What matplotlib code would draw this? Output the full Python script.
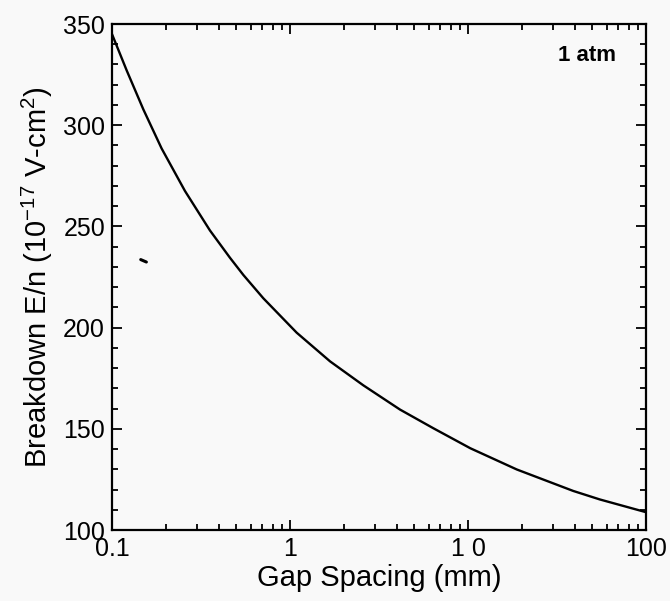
import matplotlib
matplotlib.use("Agg")
import matplotlib.pyplot as plt
from matplotlib.ticker import LogLocator, NullFormatter, MultipleLocator

plt.rcParams['font.family'] = ['Liberation Sans', 'DejaVu Sans']
plt.rcParams['mathtext.fontset'] = 'custom'
plt.rcParams['mathtext.rm'] = 'Liberation Sans'
plt.rcParams['mathtext.it'] = 'Liberation Sans'

gap_mm = [0.1, 0.121, 0.15, 0.19, 0.257, 0.355, 0.46, 0.547, 0.708, 1.09,
          1.68, 2.58, 4.15, 6.38, 10.3, 18.8, 39, 55, 100]
breakdown = [345, 327, 307.8, 288.5, 267.5, 248, 234.5, 226, 214.5, 197.5,
             183.3, 171.5, 159.5, 150.3, 140.4, 129.9, 119.3, 115.1, 108.8]

# small stray mark visible in the scanned original
speck_x = [0.145, 0.156]
speck_y = [233.6, 232.4]

x_ticks = [0.1, 1, 10, 100]
x_ticklabels = ["0.1", "1", "1 0", "100"]
y_ticks = [100, 150, 200, 250, 300, 350]
annotation = "1 atm"

bg = '#f9f9f9'
fig = plt.figure(figsize=(6.7, 6.01), dpi=100, facecolor=bg)
ax = fig.add_axes([112/670, 1-530/601, 534/670, 506/601], facecolor=bg)

ax.plot(gap_mm, breakdown, color='black', lw=1.7)
ax.plot(speck_x, speck_y, color='black', lw=2.2, solid_capstyle='round')

ax.set_xscale('log')
ax.set_xlim(0.1, 100)
ax.set_ylim(100, 350)
ax.set_xticks(x_ticks)
ax.set_xticklabels(x_ticklabels)
ax.xaxis.set_minor_locator(LogLocator(base=10, subs=range(2, 10), numticks=20))
ax.xaxis.set_minor_formatter(NullFormatter())
ax.set_yticks(y_ticks)
ax.yaxis.set_minor_locator(MultipleLocator(10))

ax.tick_params(which='both', direction='in', top=True, right=True, width=1.3, colors='black')
ax.tick_params(which='major', length=7, labelsize=18, pad=5)
ax.tick_params(which='minor', length=4)
for s in ax.spines.values():
    s.set_linewidth(1.6)

ax.set_xlabel("Gap Spacing (mm)", fontsize=21, labelpad=2)
ax.set_ylabel(r"Breakdown E/n (10$^{-17}$ V-cm$^{2}$)", fontsize=21, labelpad=6)

ax.text(0.944, 0.937, annotation, transform=ax.transAxes, ha='right', va='center',
        fontsize=16, fontweight='bold')

fig.savefig("out.png", dpi=100, facecolor=bg)
